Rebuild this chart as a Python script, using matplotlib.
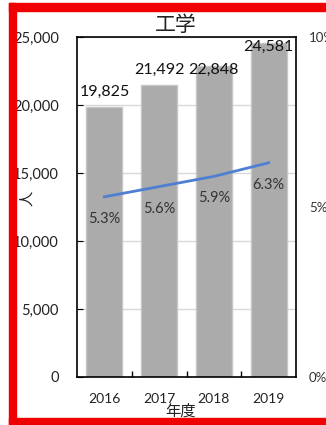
import matplotlib
matplotlib.use("Agg")
import matplotlib.pyplot as plt
from matplotlib.patches import Rectangle
from matplotlib.ticker import FuncFormatter, FixedLocator

plt.rcParams['font.family'] = ['Lato', 'Noto Sans CJK JP', 'DejaVu Sans']

years = ["2016", "2017", "2018", "2019"]
students = [19825, 21492, 22848, 24581]
ratio = [5.3, 5.6, 5.9, 6.3]
title = "工学"
xlabel = "年度"
ylabel = "人"

W, H, DPI = 326, 425, 100
PT = 72 / DPI
fig = plt.figure(figsize=(W / DPI, H / DPI), dpi=DPI)
fig.patch.set_facecolor("white")

ax = fig.add_axes([77 / W, 1 - 377 / H, (296 - 77) / W, (377 - 37) / H])
x = list(range(len(years)))
ax.bar(x, students, width=0.66, color="#ABABAB", edgecolor="#C6C6C6", linewidth=1, zorder=2)
ax.set_xlim(-0.5, len(years) - 0.5)
ax.set_ylim(0, 25000)
ax.set_yticks(range(0, 25001, 5000))
ax.yaxis.set_major_formatter(FuncFormatter(lambda v, p: f"{int(v):,}"))
ax.grid(axis="y", color="#D9D9D9", linewidth=1, zorder=0)
ax.set_axisbelow(True)
ax.set_xticks(x)
ax.set_xticklabels(years)
ax.xaxis.set_minor_locator(FixedLocator([i + 0.5 for i in x[:-1]]))
ax.tick_params(axis="x", which="major", length=0, pad=16 * PT, labelsize=10, labelcolor="#222222")
ax.tick_params(axis="x", which="minor", length=4, direction="in", width=1)
ax.tick_params(axis="y", length=4, direction="in", pad=18 * PT, labelsize=10.5, labelcolor="#222222")
for s in ax.spines.values():
    s.set_color("black")
    s.set_linewidth(1.2)

for xi, v in zip(x, students):
    dy = 15 if v + 2300 < 25000 else -4
    ax.annotate(f"{v:,}", (xi, v), xytext=(0, dy * PT), textcoords="offset points",
                ha="center", va="center", fontsize=11.5, color="#111111", zorder=5)

ax2 = ax.twinx()
ax2.set_ylim(0, 0.10)
ax2.set_yticks([0, 0.05, 0.10])
ax2.yaxis.set_major_formatter(FuncFormatter(lambda v, p: f"{v*100:.0f}%"))
ax2.tick_params(axis="y", length=0, pad=13 * PT, labelsize=9.5, labelcolor="#333333")
for s in ax2.spines.values():
    s.set_visible(False)
rv = [r / 100 for r in ratio]
ax2.plot(x, rv, color="#4F7FD2", linewidth=2, zorder=4)
for xi, r, v in zip(x, ratio, rv):
    ax2.annotate(f"{r:.1f}%", (xi, v), xytext=(0, -22 * PT), textcoords="offset points",
                 ha="center", va="center", fontsize=10.5, color="#333333")

fig.text(176 / W, 1 - 25 / H, title, ha="center", va="center", fontsize=15,
         family=['Noto Sans CJK JP'], color="#222222")
fig.text(180 / W, 1 - 411 / H, xlabel, ha="center", va="center", fontsize=11,
         family=['Noto Sans CJK JP'], color="#222222")
fig.text(27 / W, 1 - 198 / H, ylabel, ha="center", va="center", fontsize=11,
         rotation=90, family=['Noto Sans CJK JP'], color="#222222")

red = "#F00000"
fig.patches.append(Rectangle((9 / W, 0), 7 / W, 1 - 3 / H, transform=fig.transFigure, color=red, zorder=10))
fig.patches.append(Rectangle((9 / W, 1 - 11 / H), 1, 8 / H, transform=fig.transFigure, color=red, zorder=10))
fig.patches.append(Rectangle((9 / W, 0), 1, 7 / H, transform=fig.transFigure, color=red, zorder=10))

fig.savefig("out.png", dpi=DPI)
